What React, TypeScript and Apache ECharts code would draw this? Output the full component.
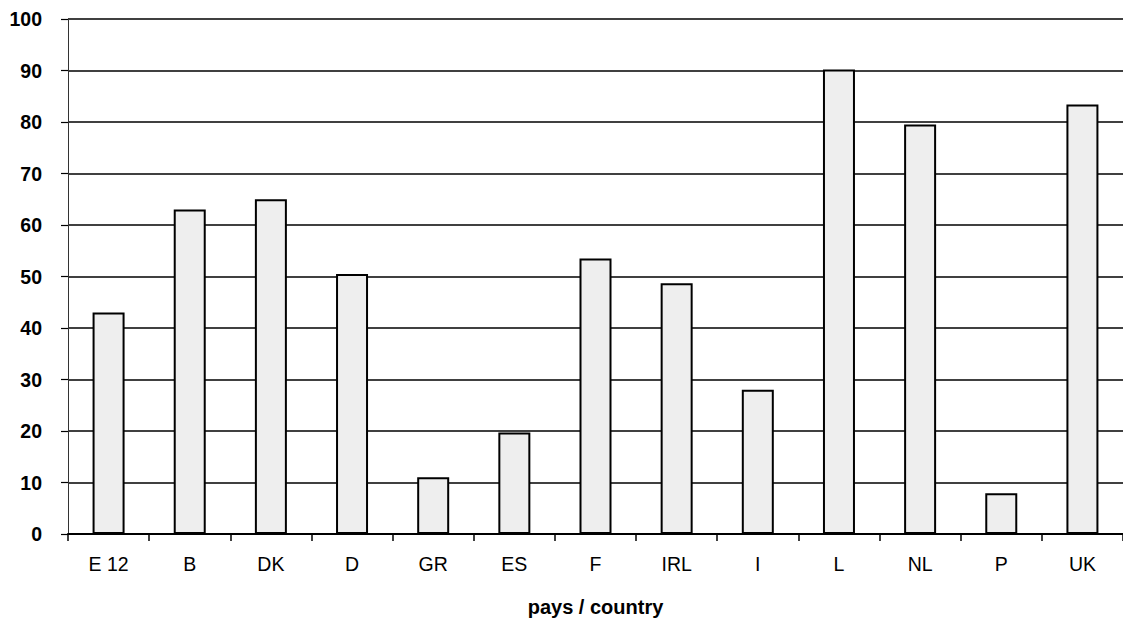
import React, { useEffect, useRef } from "react";
import * as echarts from "echarts";

const categories = ["E 12", "B", "DK", "D", "GR", "ES", "F", "IRL", "I", "L", "NL", "P", "UK"];
const values = [43, 63, 65, 50.5, 11, 19.7, 53.5, 48.7, 28, 90.2, 79.5, 7.9, 83.4];
const xAxisName = "pays / country";

export default function App() {
  const ref = useRef<HTMLDivElement>(null);
  useEffect(() => {
    const chart = echarts.init(ref.current!, null, { renderer: "svg" });
    chart.setOption({
      animation: false,
      backgroundColor: "#ffffff",
      grid: { left: 68, right: -6, top: 19, bottom: 84, containLabel: false },
      xAxis: {
        type: "category",
        data: categories,
        name: xAxisName,
        nameLocation: "middle",
        nameGap: 63,
        nameTextStyle: { fontFamily: "Liberation Sans, Arial", fontWeight: "bold", fontSize: 20, color: "#000" },
        axisLine: { lineStyle: { color: "#000", width: 2 } },
        axisTick: { show: true, length: 7, lineStyle: { color: "#000", width: 1.5 } },
        axisLabel: { margin: 20, fontFamily: "Liberation Sans, Arial", fontSize: 19.5, color: "#000" },
      },
      yAxis: {
        type: "value",
        min: 0,
        max: 100,
        interval: 10,
        axisLine: { show: true, lineStyle: { color: "#333", width: 1 } },
        axisTick: { show: true, length: 7, lineStyle: { color: "#000", width: 1.2 } },
        axisLabel: { margin: 26, fontFamily: "Liberation Sans, Arial", fontWeight: "bold", fontSize: 19.5, color: "#000" },
        splitLine: { show: true, lineStyle: { color: "#000", width: 1.5 } },
      },
      series: [
        {
          type: "bar",
          data: values,
          barWidth: 32,
          itemStyle: { color: "#eeeeee", borderColor: "#000", borderWidth: 2 },
        },
      ],
    });
    return () => chart.dispose();
  }, []);
  return (
    <div
      ref={ref}
      style={{ position: "fixed", left: 0, top: 0, width: 1123, height: 622, background: "#fff" }}
    />
  );
}
